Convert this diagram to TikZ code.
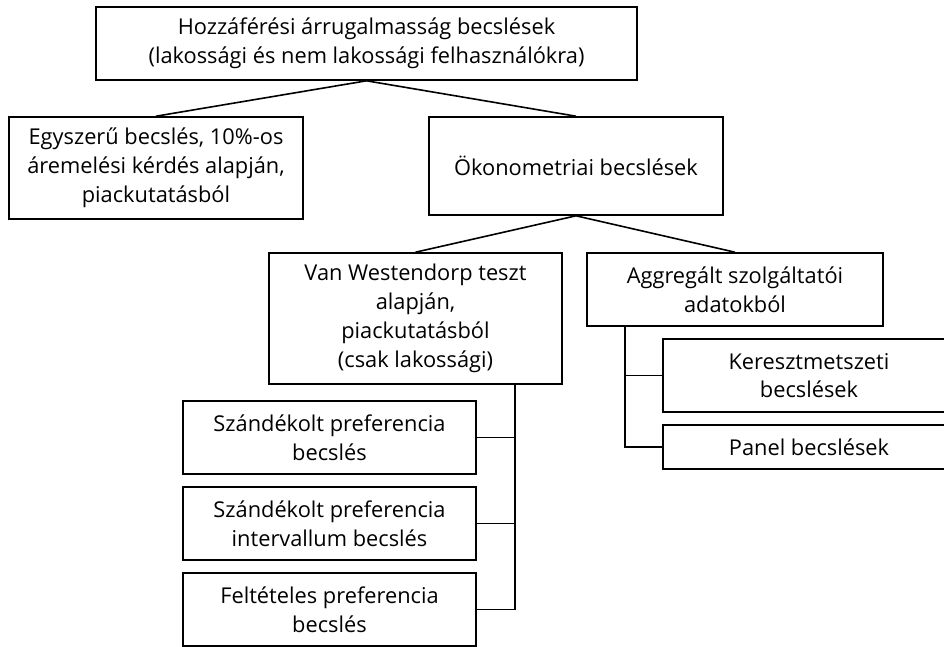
\documentclass[tikz,border=0pt]{standalone}
\usepackage{fontspec}
\setmainfont{Open Sans}

\tikzset{
    box/.style={draw, line width=1.6pt, align=center, inner sep=0pt,
        font=\fontsize{21.8}{28.8}\selectfont},
    link/.style={line width=1.6pt}
}

\begin{document}
\begin{tikzpicture}[x=1pt,y=-1pt]
    \useasboundingbox (0,0) rectangle (944,646);
    % top level
    \node[box, minimum width=541pt, minimum height=73pt] (root) at (366.5,43.5)
	{Hozzáférési árrugalmasság becslések\\(lakossági és nem lakossági felhasználókra)};
    \node[box, minimum width=294pt, minimum height=102pt] (simple) at (156,168)
	{Egyszerű becslés, 10\%-os\\áremelési kérdés alapján,\\piackutatásból};
    \node[box, minimum width=294pt, minimum height=98pt] (econ) at (576,166)
	{Ökonometriai becslések};
    \draw[link] (root.south) -- (simple.north);
    \draw[link] (root.south) -- (econ.north);
    % second level
    \node[box, minimum width=293pt, minimum height=131pt] (vanw) at (415.5,318.5)
	{Van Westendorp teszt\\alapján,\\piackutatásból\\(csak lakossági)};
    \node[box, minimum width=296pt, minimum height=73pt] (aggr) at (735,289.5)
	{Aggregált szolgáltatói\\adatokból};
    \draw[link] (econ.south) -- (vanw.north);
    \draw[link] (econ.south) -- (aggr.north);
    % Van Westendorp branch
    \begin{scope}[every node/.style={box, minimum width=293pt, minimum height=73pt}]
	\node (pref1) at (329.5,437.5) {Szándékolt preferencia\\becslés};
	\node (pref2) at (329.5,523.5) {Szándékolt preferencia\\intervallum becslés};
	\node (pref3) at (329.5,609.5) {Feltételes preferencia\\becslés};
    \end{scope}
    \coordinate (vbus) at ([xshift=-48pt]vanw.south east);
    \draw[link] (vbus) |- (pref1.east);
    \draw[link] (vbus) |- (pref2.east);
    \draw[link] (vbus) |- (pref3.east);
    % aggregated branch
    \node[box, minimum width=292pt, minimum height=73pt] (cross) at (809,375.5)
	{Keresztmetszeti\\becslések};
    \node[box, minimum width=292pt, minimum height=44pt] (panel) at (809,447)
	{Panel becslések};
    \coordinate (abus) at ([xshift=38.5pt]aggr.south west);
    \draw[link] (abus) |- (cross.west);
    \draw[link] (abus) |- (panel.west);
\end{tikzpicture}
\end{document}
